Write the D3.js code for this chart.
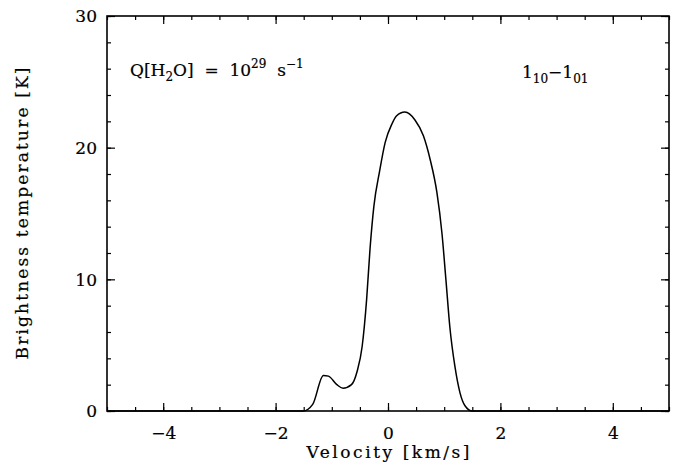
<!DOCTYPE html>
<html>
<head>
<meta charset="utf-8">
<script src="https://cdn.jsdelivr.net/npm/d3@7"></script>
<style>
  body { margin: 0; background: #fff; }
  text { font-family: "DejaVu Serif", serif; fill: #000; stroke: #000; stroke-width: 0.2px; }
</style>
</head>
<body>
<div id="chart"></div>
<script>
// line profile
const velocity = [-5, -1.51, -1.34, -1.15, -1.06, -0.91, -0.80, -0.65, -0.55, -0.46, -0.38, -0.32, -0.25, -0.15, -0.05, 0.07, 0.15, 0.30, 0.48, 0.63, 0.75, 0.87, 0.96, 1.03, 1.10, 1.19, 1.28, 1.37, 1.50, 5];
const brightness = [0, 0, 0.5, 2.7, 2.65, 2.0, 1.73, 2.0, 3.0, 4.9, 8.5, 12.3, 15.6, 18.2, 20.4, 21.8, 22.4, 22.7, 22.1, 20.9, 19.1, 16.6, 13.5, 10.0, 6.4, 3.4, 1.4, 0.4, 0, 0];
const xTicks = [-4, -2, 0, 2, 4];
const yTicks = [0, 10, 20, 30];

const width = 680, height = 465;
const margin = {top: 16, right: 11, bottom: 54, left: 107};
const w = width - margin.left - margin.right;
const h = height - margin.top - margin.bottom;

const svg = d3.select('#chart').append('svg')
  .attr('width', width)
  .attr('height', height);

const chart = svg.append('g')
  .attr('transform', `translate(${margin.left}, ${margin.top})`);

const scaleX = d3.scaleLinear().domain([-5, 5]).range([0, w]);
const scaleY = d3.scaleLinear().domain([0, 30]).range([h, 0]);

const minorX = d3.range(-5, 5.01, 0.5);
const minorY = d3.range(0, 30.01, 2);

// ticks pointing inward on all four sides
function styleAxis(g) {
  g.select('.domain').remove();
  g.selectAll('line').attr('stroke', '#000').attr('stroke-width', 1.2);
}

const fmt = d => d < 0 ? '\u2212' + Math.abs(d) : d;

// minor ticks
chart.append('g').attr('transform', `translate(0, ${h})`)
  .call(d3.axisBottom(scaleX).tickValues(minorX).tickSize(-4).tickFormat(''))
  .call(styleAxis);
chart.append('g')
  .call(d3.axisTop(scaleX).tickValues(minorX).tickSize(-4).tickFormat(''))
  .call(styleAxis);
chart.append('g')
  .call(d3.axisLeft(scaleY).tickValues(minorY).tickSize(-4).tickFormat(''))
  .call(styleAxis);
chart.append('g').attr('transform', `translate(${w}, 0)`)
  .call(d3.axisRight(scaleY).tickValues(minorY).tickSize(-4).tickFormat(''))
  .call(styleAxis);

// major ticks
const axisX = chart.append('g').attr('transform', `translate(0, ${h})`)
  .call(d3.axisBottom(scaleX).tickValues(xTicks).tickSize(-8).tickPadding(16).tickFormat(fmt))
  .call(styleAxis);
chart.append('g')
  .call(d3.axisTop(scaleX).tickValues(xTicks).tickSize(-8).tickFormat(''))
  .call(styleAxis);
const axisY = chart.append('g')
  .call(d3.axisLeft(scaleY).tickValues(yTicks).tickSize(-8).tickPadding(10).tickFormat(fmt))
  .call(styleAxis);
chart.append('g').attr('transform', `translate(${w}, 0)`)
  .call(d3.axisRight(scaleY).tickValues(yTicks).tickSize(-8).tickFormat(''))
  .call(styleAxis);

axisX.selectAll('text').style('font-size', '17px').attr('font-family', null).attr('fill', null);
axisY.selectAll('text').style('font-size', '17px').attr('font-family', null).attr('fill', null).attr('dy', '0.35em');

// frame
chart.append('rect')
  .attr('width', w)
  .attr('height', h)
  .attr('fill', 'none')
  .attr('stroke', '#000')
  .attr('stroke-width', 1.6);

// profile
const points = velocity.map((v, i) => ({v, t: brightness[i]}));
const line = d3.line()
  .x(d => scaleX(d.v))
  .y(d => scaleY(d.t))
  .curve(d3.curveMonotoneX);

chart.append('path')
  .datum(points)
  .attr('d', line)
  .attr('fill', 'none')
  .attr('stroke', '#000')
  .attr('stroke-width', 1.5);

// axis titles
svg.append('text')
  .attr('x', margin.left + w / 2)
  .attr('y', 458)
  .attr('text-anchor', 'middle')
  .style('font-size', '17px')
  .attr('textLength', 163)
  .text('Velocity [km/s]');

svg.append('text')
  .attr('transform', `translate(28, ${margin.top + h / 2}) rotate(-90)`)
  .attr('text-anchor', 'middle')
  .style('font-size', '17px')
  .attr('textLength', 292)
  .text('Brightness temperature [K]');

// annotations
const q = svg.append('text')
  .attr('x', 130)
  .attr('y', 76)
  .style('font-size', '17px')
  .style('white-space', 'pre');
q.append('tspan').text('Q[H');
q.append('tspan').attr('dy', 5).style('font-size', '12px').text('2');
q.append('tspan').attr('dy', -5).text('O]  =  10');
q.append('tspan').attr('dy', -8).style('font-size', '12px').text('29');
q.append('tspan').attr('dy', 8).text('  s');
q.append('tspan').attr('dy', -8).style('font-size', '12px').text('\u22121');

const tr = svg.append('text')
  .attr('x', 522)
  .attr('y', 78)
  .style('font-size', '17px');
tr.append('tspan').text('1');
tr.append('tspan').attr('dy', 5).style('font-size', '12px').text('10');
tr.append('tspan').attr('dy', -5).text('\u22121');
tr.append('tspan').attr('dy', 5).style('font-size', '12px').text('01');
</script>
</body>
</html>
